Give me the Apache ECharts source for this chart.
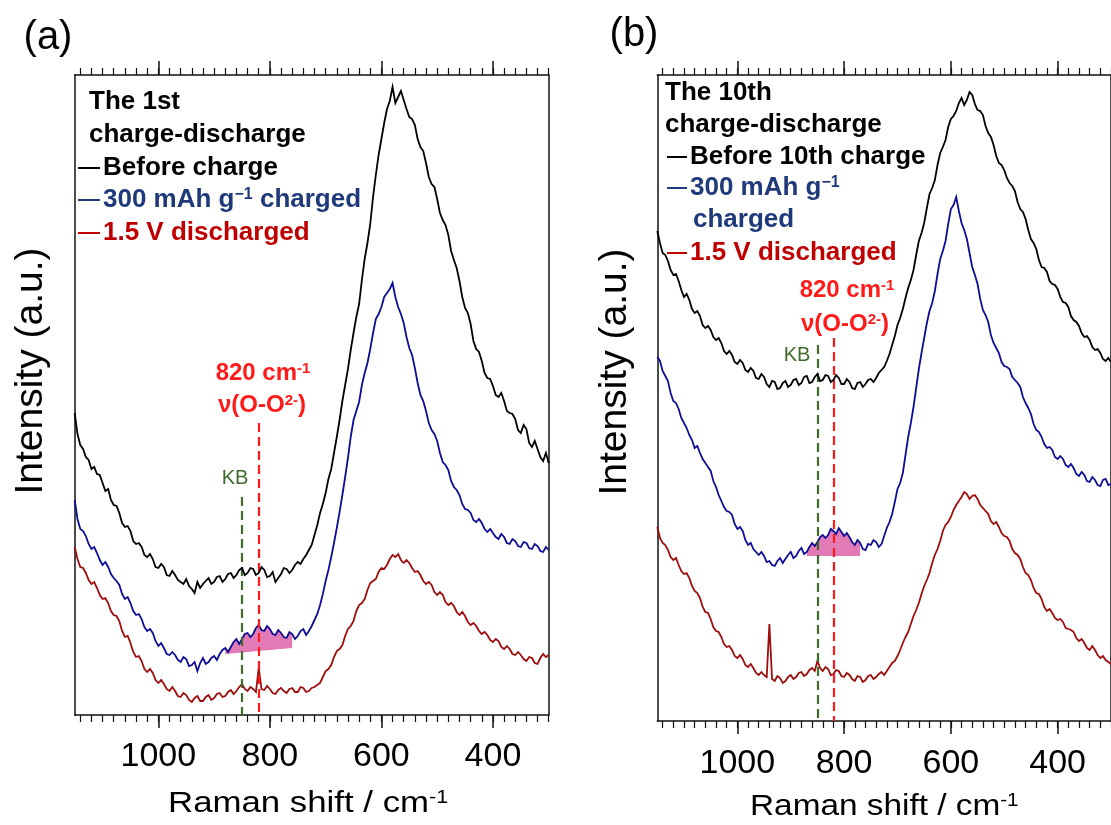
<!DOCTYPE html>
<html>
<head>
<meta charset="utf-8">
<script src="https://cdn.jsdelivr.net/npm/echarts@6/dist/echarts.min.js"></script>
<style>
  html, body { margin: 0; padding: 0; background: #fff; }
  #chart { width: 1111px; height: 825px; }
</style>
</head>
<body>
<div id="chart"></div>
<script>
// Raman shift sampling (cm-1), shared by every spectrum; 10 values per row
const shift = [
  1150,1145,1140,1135,1130,1125,1120,1115,1110,1105,
  1100,1095,1090,1085,1080,1075,1070,1065,1060,1055,
  1050,1045,1040,1035,1030,1025,1020,1015,1010,1005,
  1000,995,990,985,980,975,970,965,960,955,
  950,945,940,935,930,925,920,915,910,905,
  900,895,890,885,880,875,870,865,860,855,
  850,845,840,835,830,825,820,815,810,805,
  800,795,790,785,780,775,770,765,760,755,
  750,745,740,735,730,725,720,715,710,705,
  700,695,690,685,680,675,670,665,660,655,
  650,645,640,635,630,625,620,615,610,605,
  600,595,590,585,580,575,570,565,560,555,
  550,545,540,535,530,525,520,515,510,505,
  500,495,490,485,480,475,470,465,460,455,
  450,445,440,435,430,425,420,415,410,405,
  400,395,390,385,380,375,370,365,360,355,
  350,345,340,335,330,325,320,315,310,305,
  300];

// (a) 1st charge-discharge
const beforeA = [
  302,281,270,266,258,255,246,248,241,240,
  232,224,226,215,210,209,202,192,188,189,
  184,174,171,172,168,160,158,161,156,148,
  147,151,148,140,139,144,140,135,133,131,
  136,129,126,122,133,127,131,134,137,131,
  133,138,139,133,136,141,142,137,140,145,
  147,140,142,147,146,140,142,148,145,138,
  139,143,133,137,141,147,146,142,145,150,
  153,151,156,160,165,170,180,190,202,211,
  222,236,246,262,278,295,314,330,346,365,
  382,398,411,435,456,472,491,518,540,560,
  576,592,606,614,628,612,618,624,615,606,
  598,596,590,576,568,564,552,538,531,528,
  516,502,495,490,480,464,455,447,434,418,
  407,402,391,374,366,363,354,342,337,336,
  329,320,318,322,314,304,302,301,296,285,
  282,290,286,272,268,274,266,258,254,262,
  252];
const chargedA = [
  215,196,186,184,179,171,166,168,162,155,
  150,153,148,141,137,134,130,121,116,118,
  112,104,100,101,96,88,84,86,82,74,
  69,72,67,61,60,63,60,55,53,58,
  56,49,50,53,44,52,57,51,53,57,
  59,55,61,65,67,63,68,73,76,71,
  76,81,82,78,81,87,90,85,84,89,
  86,81,80,85,82,78,77,83,81,76,
  79,84,86,80,84,89,95,101,110,121,
  134,145,158,172,187,203,220,238,257,278,
  295,304,313,330,342,352,366,382,396,401,
  408,418,422,426,432,418,408,401,392,378,
  367,360,347,332,320,314,304,292,285,281,
  274,262,253,250,245,234,228,225,220,211,
  206,205,202,195,193,196,192,186,183,186,
  182,178,176,181,178,172,171,176,174,169,
  168,173,172,167,166,171,169,164,163,168,
  165];
const dischargedA = [
  168,156,148,147,142,135,131,133,127,120,
  116,117,112,104,100,99,94,84,78,79,
  72,63,58,59,54,46,43,46,42,35,
  32,35,31,26,24,28,24,19,18,22,
  20,15,13,17,19,14,14,18,20,15,
  17,21,22,18,19,23,25,21,24,28,
  31,26,24,28,26,23,47,26,25,29,
  26,22,21,25,27,24,22,26,27,23,
  23,28,27,23,24,27,28,30,32,38,
  44,46,50,58,64,66,70,79,86,89,
  94,104,110,112,116,125,132,134,136,143,
  147,146,150,156,160,158,161,155,152,155,
  152,147,143,144,140,134,131,133,130,123,
  120,123,120,113,110,112,109,103,100,103,
  99,93,90,92,89,84,81,83,80,75,
  73,76,74,68,66,69,66,61,60,63,
  60,56,54,58,57,52,51,57,61,58,
  60];

// (b) 10th charge-discharge
const beforeB = [
  490,478,468,466,460,451,446,447,440,431,
  424,427,421,412,408,410,405,396,393,395,
  391,384,381,383,378,370,367,370,366,359,
  357,361,358,351,349,353,350,343,342,347,
  344,337,334,340,339,332,333,338,340,334,
  336,341,342,336,338,344,345,338,339,344,
  347,340,341,346,345,339,341,346,343,337,
  337,342,339,333,332,338,339,334,337,341,
  342,339,343,348,351,354,360,367,376,385,
  396,403,412,423,433,441,451,466,480,488,
  498,513,527,533,541,556,568,574,581,594,
  602,605,610,618,623,616,621,629,626,617,
  611,610,606,595,588,584,576,565,558,556,
  551,543,538,535,530,519,512,509,502,491,
  482,478,472,461,454,453,449,440,437,436,
  432,424,419,418,414,405,401,399,395,388,
  384,385,381,374,371,372,368,362,360,363,
  359];
const chargedB = [
  364,360,350,345,340,328,320,318,312,303,
  298,293,286,281,273,275,268,262,258,254,
  250,240,234,226,220,214,210,209,206,197,
  192,194,190,181,176,178,172,169,166,169,
  165,159,160,156,155,160,163,158,162,166,
  169,163,165,170,173,167,169,174,178,175,
  179,184,186,183,186,192,190,187,193,189,
  185,188,184,179,176,181,178,172,171,177,
  176,181,179,174,177,185,193,199,207,219,
  232,238,248,266,284,298,314,333,352,368,
  383,398,410,418,430,447,462,470,480,497,
  512,516,524,510,498,491,482,468,454,446,
  437,422,411,406,399,386,378,373,368,359,
  355,354,352,344,341,338,334,324,318,313,
  307,297,291,289,284,277,273,274,271,264,
  262,265,262,256,254,257,253,247,245,249,
  246,240,239,244,241,236,235,241,242,236,
  237];
const dischargedB = [
  194,183,178,176,171,164,161,163,156,150,
  147,148,143,135,130,128,123,114,109,108,
  102,94,90,89,84,77,74,75,71,65,
  63,66,62,56,54,57,53,48,46,49,
  46,44,97,42,40,45,43,38,40,44,
  46,42,44,48,49,45,47,51,53,50,
  60,53,50,54,52,46,47,51,50,45,
  44,48,46,42,40,45,44,39,41,45,
  46,42,44,47,49,46,50,54,58,60,
  65,71,78,84,89,97,105,111,118,127,
  135,141,148,158,166,172,180,190,196,199,
  204,211,216,220,224,229,227,222,225,226,
  222,216,213,210,207,200,197,199,194,188,
  185,184,180,172,168,166,162,154,148,146,
  141,133,128,127,122,114,110,112,108,103,
  101,102,99,93,92,91,89,83,80,82,
  78,73,71,75,71,66,63,65,61,59,
  57];

// axis ticks
const majorTicks = [1000, 800, 600, 400];
const minorTicks = [1140,1120,1100,1080,1060,1040,1020,1000,980,960,940,920,900,880,860,
  840,820,800,780,760,740,720,700,680,660,640,620,600,580,560,540,520,500,480,460,
  440,420,400,380,360,340,320,300];

// reference bands: KB at 850, peroxo O-O stretch at 820
const kbShift = 850;
const peroxoShift = 820;
const markTopA = [218, 292];   // upper ends of the KB / 820 dashed lines, panel (a)
const markTopB = [376, 383];   // same for panel (b)
// shaded O-O band under the charged spectrum: [start, end] shift and baseline levels
const bandA = [880, 760], baseA = [61, 67];
const bandB = [870, 770], baseB = [165, 165];

const FONT = "'Liberation Sans', Arial, sans-serif";
const C_BLACK = '#000000', C_BLUE = '#0d0d96', C_RED = '#9e0c0c';
const C_BLUE_TXT = '#1f3a7a', C_RED_TXT = '#c00000';
const C_PEAK = '#ff1a1a', C_KB = '#3f6b2c', C_FILL = '#e27ab5';

const pairs = arr => shift.map((x, i) => [x, arr[i]]);

function xAxes(gi) {
  const base = { type: 'value', gridIndex: gi, min: 300, max: 1150, inverse: true,
    splitLine: { show: false }, axisPointer: { show: false } };
  const line = { show: true, lineStyle: { color: '#111', width: 1.5 } };
  return [
    Object.assign({}, base, { position: 'bottom', axisLine: line,
      axisTick: { show: true, inside: false, length: 13, customValues: majorTicks, lineStyle: { color: '#111', width: 1.5 } },
      axisLabel: { show: true, customValues: majorTicks, fontSize: 34, color: '#000', fontFamily: FONT,
        margin: gi === 0 ? 25 : 26, formatter: v => String(v) } }),
    Object.assign({}, base, { position: 'bottom', axisLine: { show: false },
      axisTick: { show: true, inside: false, length: 7, customValues: minorTicks, lineStyle: { color: '#111', width: 1.2 } },
      axisLabel: { show: false } }),
    Object.assign({}, base, { position: 'top', axisLine: line,
      axisTick: { show: true, inside: false, length: 14, customValues: majorTicks, lineStyle: { color: '#111', width: 1.5 } },
      axisLabel: { show: false } }),
    Object.assign({}, base, { position: 'top', axisLine: { show: false },
      axisTick: { show: true, inside: false, length: 7, customValues: minorTicks, lineStyle: { color: '#111', width: 1.2 } },
      axisLabel: { show: false } })
  ];
}

function yAxes(gi, maxV) {
  const base = { type: 'value', gridIndex: gi, min: 0, max: maxV,
    axisTick: { show: false }, axisLabel: { show: false }, splitLine: { show: false },
    axisLine: { show: true, lineStyle: { color: '#111', width: 1.5 } } };
  return [Object.assign({}, base, { position: 'left' }), Object.assign({}, base, { position: 'right' })];
}

function spectrum(xi, yi, arr, color, z) {
  return { type: 'line', xAxisIndex: xi, yAxisIndex: yi, data: pairs(arr), showSymbol: false,
    symbol: 'none', lineStyle: { color: color, width: 1.8, join: 'miter' }, z: z, silent: true, animation: false };
}

function bandFill(xi, yi, arr, band, base) {
  return { type: 'custom', xAxisIndex: xi, yAxisIndex: yi, data: [[band[0], base[0]]], z: 1,
    silent: true, animation: false,
    renderItem: function (params, api) {
      const pts = [];
      shift.forEach((x, i) => { if (x <= band[0] && x >= band[1]) pts.push(api.coord([x, arr[i]])); });
      pts.push(api.coord([band[1], base[1]]));
      pts.push(api.coord([band[0], base[0]]));
      return { type: 'polygon', shape: { points: pts }, style: { fill: C_FILL } };
    } };
}

function marks(xi, yi, tops) {
  return { type: 'line', xAxisIndex: xi, yAxisIndex: yi, data: [], silent: true, z: 2,
    markLine: { silent: true, symbol: 'none', animation: false, label: { show: false },
      data: [
        [{ coord: [kbShift, tops[0]], lineStyle: { color: C_KB, type: [9, 5], width: 2.2 } }, { coord: [kbShift, 0] }],
        [{ coord: [peroxoShift, tops[1]], lineStyle: { color: C_PEAK, type: [9, 5], width: 2.2 } }, { coord: [peroxoShift, 0] }]
      ] } };
}

function txt(x, y, text, o) {
  o = o || {};
  return { type: 'text', x: x, y: y, rotation: o.rotation || 0, scaleX: o.scaleX || 1,
    originX: 0, originY: 0, silent: true,
    style: { text: text, fill: o.fill || '#000', fontSize: o.size || 26, fontWeight: o.weight || 'normal',
      fontFamily: FONT, align: o.align || 'left', verticalAlign: o.valign || 'middle', rich: o.rich } };
}

function dash(x1, x2, y, color) {
  return { type: 'line', silent: true, shape: { x1: x1, y1: y, x2: x2, y2: y },
    style: { stroke: color, lineWidth: 2 } };
}

const supBold = (size, color) => ({ m: { fontSize: size, fontWeight: 'bold', fill: color, fontFamily: FONT },
  s: { fontSize: Math.round(size * 0.62), fontWeight: 'bold', fill: color, fontFamily: FONT, verticalAlign: 'top' } });
const supPlain = (size) => ({ m: { fontSize: size, fill: '#000', fontFamily: FONT },
  s: { fontSize: Math.round(size * 0.62), fill: '#000', fontFamily: FONT, verticalAlign: 'top' } });

const graphics = [
  // panel labels
  txt(48, 38, '(a)', { size: 40, align: 'center' }),
  txt(634, 35, '(b)', { size: 40, align: 'center' }),
  // y titles
  txt(31, 371, 'Intensity (a.u.)', { size: 39, align: 'center', rotation: Math.PI / 2 }),
  txt(615, 372, 'Intensity (a.u.)', { size: 39, align: 'center', rotation: Math.PI / 2 }),
  // x titles
  txt(168, 804, '{m|Raman shift / cm}{s|-1}', { scaleX: 1.2, rich: supPlain(29) }),
  txt(750, 807, '{m|Raman shift / cm}{s|-1}', { scaleX: 1.15, rich: supPlain(29) }),

  // legend (a)
  txt(89, 102, 'The 1st', { size: 26, weight: 'bold' }),
  txt(89, 135, 'charge-discharge', { size: 26, weight: 'bold' }),
  dash(78, 100, 168, C_BLACK), txt(103, 168, 'Before charge', { size: 26, weight: 'bold' }),
  dash(78, 100, 200, C_BLUE_TXT), txt(103, 200, '{m|300 mAh g}{s|\u22121}{m| charged}', { rich: supBold(26, C_BLUE_TXT) }),
  dash(78, 100, 233, C_RED_TXT), txt(103, 233, '1.5 V discharged', { size: 26, weight: 'bold', fill: C_RED_TXT }),

  // legend (b)
  txt(665, 93, 'The 10th', { size: 26, weight: 'bold' }),
  txt(665, 125, 'charge-discharge', { size: 26, weight: 'bold' }),
  dash(667, 687, 157, C_BLACK), txt(690, 157, 'Before 10th charge', { size: 26, weight: 'bold' }),
  dash(667, 687, 188, C_BLUE_TXT), txt(690, 188, '{m|300 mAh g}{s|\u22121}', { rich: supBold(26, C_BLUE_TXT) }),
  txt(693, 220, 'charged', { size: 26, weight: 'bold', fill: C_BLUE_TXT }),
  dash(667, 687, 253, C_RED_TXT), txt(690, 253, '1.5 V discharged', { size: 26, weight: 'bold', fill: C_RED_TXT }),

  // band annotations (a)
  txt(263, 373, '{m|820 cm}{s|-1}', { align: 'center', rich: supBold(24, C_PEAK) }),
  txt(262, 405, '{m|\u03bd(O-O}{s|2-}{m|)}', { align: 'center', rich: supBold(24, C_PEAK) }),
  txt(235, 478, 'KB', { size: 20, align: 'center', fill: C_KB }),
  // band annotations (b)
  txt(847, 290, '{m|820 cm}{s|-1}', { align: 'center', rich: supBold(24, C_PEAK) }),
  txt(845, 324, '{m|\u03bd(O-O}{s|2-}{m|)}', { align: 'center', rich: supBold(24, C_PEAK) }),
  txt(797, 355, 'KB', { size: 20, align: 'center', fill: C_KB })
];

const chart = echarts.init(document.getElementById('chart'), null, { renderer: 'canvas' });
chart.setOption({
  animation: false,
  backgroundColor: '#ffffff',
  grid: [
    { left: 74.7, top: 75, width: 474, height: 640 },
    { left: 657.3, top: 75, width: 458, height: 646 }
  ],
  xAxis: xAxes(0).concat(xAxes(1)),
  yAxis: yAxes(0, 640).concat(yAxes(1, 646)),
  series: [
    bandFill(0, 0, chargedA, bandA, baseA),
    marks(0, 0, markTopA),
    spectrum(0, 0, dischargedA, C_RED, 3),
    spectrum(0, 0, chargedA, C_BLUE, 4),
    spectrum(0, 0, beforeA, C_BLACK, 5),
    bandFill(4, 2, chargedB, bandB, baseB),
    marks(4, 2, markTopB),
    spectrum(4, 2, dischargedB, C_RED, 3),
    spectrum(4, 2, chargedB, C_BLUE, 4),
    spectrum(4, 2, beforeB, C_BLACK, 5)
  ],
  graphic: graphics
});
</script>
</body>
</html>
